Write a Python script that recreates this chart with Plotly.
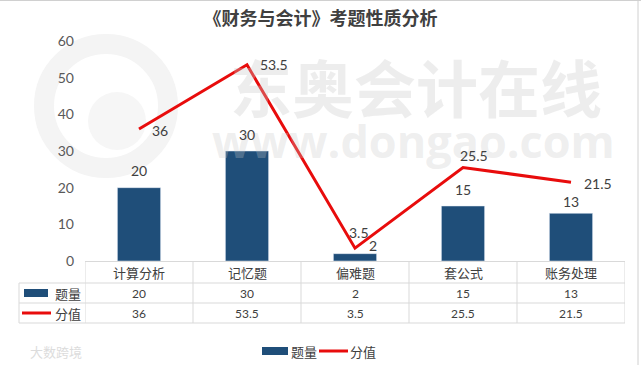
import plotly.graph_objects as go

categories = ["计算分析", "记忆题", "偏难题", "套公式", "账务处理"]
count_name = "题量"
score_name = "分值"
counts = [20, 30, 2, 15, 13]
scores = [36, 53.5, 3.5, 25.5, 21.5]
y_ticks = [0, 10, 20, 30, 40, 50, 60]
title_text = "《财务与会计》考题性质分析"

BAR = "#1f4e79"
RED = "#e80c0c"
TXT = "#404040"
GRID = "#d9d9d9"
NUM_FONT = "Lato, Noto Sans, Noto Sans CJK SC"
CJK_FONT = "Noto Sans CJK SC"

W, H = 641, 365
L, R, T, B = 85, 16, 41, 104
PW, PH = W - L - R, H - T - B


def px(x):
    return (x - L) / PW


def py(y):
    return (H - B - y) / PH


def ann(**kw):
    kw.setdefault("showarrow", False)
    kw.setdefault("xanchor", "center")
    kw.setdefault("yanchor", "middle")
    return kw


fig = go.Figure()
fig.add_trace(go.Bar(x=list(range(len(categories))), y=counts, name=count_name,
                     marker_color=BAR, width=0.4, hoverinfo="skip"))
fig.add_trace(go.Scatter(x=list(range(len(categories))), y=scores, name=score_name,
                         mode="lines", line=dict(color=RED, width=3), hoverinfo="skip"))

shapes = []
annotations = []

# watermark (faint)
shapes.append(dict(type="circle", xref="paper", yref="paper", layer="below",
                   x0=px(44), x1=px(168), y0=py(168), y1=py(44),
                   line=dict(color="#f4f4f4", width=20)))
shapes.append(dict(type="circle", xref="paper", yref="paper", layer="below",
                   x0=px(88), x1=px(146), y0=py(150), y1=py(92),
                   fillcolor="#f6f6f6", line=dict(width=0)))
annotations.append(ann(xref="paper", yref="paper", x=px(416), y=py(86), text="东奥会计在线",
                       font=dict(family=CJK_FONT, size=62, color="rgba(200,200,200,0.32)", weight="bold")))
annotations.append(ann(xref="paper", yref="paper", x=px(413), y=py(140), text="www.dongao.com",
                       font=dict(family="Open Sans", size=45, color="rgba(200,200,200,0.30)", weight="bold")))
annotations.append(ann(xref="paper", yref="paper", x=px(56), y=py(351), text="大数跨境",
                       font=dict(family=CJK_FONT, size=13, color="#dcdcdc")))

# data labels: bars
bar_shift = [(0, 17), (0, 17), (18, 8), (0, 17), (0, 12)]
for i, v in enumerate(counts):
    dx, dy = bar_shift[i]
    annotations.append(ann(x=i, y=v, xref="x", yref="y", text=str(v),
                           xshift=dx, yshift=dy, font=dict(family=NUM_FONT, size=14, color=TXT)))
# data labels: line
line_shift = [(21, -1), (27, 0), (4, 16), (11, 12), (27, -1)]
for i, v in enumerate(scores):
    dx, dy = line_shift[i]
    annotations.append(ann(x=i, y=v, xref="x", yref="y", text=f"{v:g}",
                           xshift=dx, yshift=dy, font=dict(family=NUM_FONT, size=14, color=TXT)))

# data table
row_lines = [py(283), py(303), py(323)]
for yy in row_lines:
    shapes.append(dict(type="line", xref="paper", yref="paper", x0=px(19), x1=1, y0=yy, y1=yy,
                       line=dict(color=GRID, width=1)))
for k in range(len(categories) + 1):
    shapes.append(dict(type="line", xref="x", yref="paper", x0=k - 0.5, x1=k - 0.5,
                       y0=py(323), y1=0, line=dict(color=GRID, width=1)))
shapes.append(dict(type="line", xref="paper", yref="paper", x0=px(19), x1=px(19),
                   y0=py(323), y1=py(283), line=dict(color=GRID, width=1)))

for i, c in enumerate(categories):
    annotations.append(ann(x=i, y=py(272.5), xref="x", yref="paper", text=c,
                           font=dict(family=CJK_FONT, size=13, color=TXT)))
    annotations.append(ann(x=i, y=py(293), xref="x", yref="paper", text=str(counts[i]),
                           font=dict(family=NUM_FONT, size=12, color=TXT)))
    annotations.append(ann(x=i, y=py(313), xref="x", yref="paper", text=f"{scores[i]:g}",
                           font=dict(family=NUM_FONT, size=12, color=TXT)))

# table legend keys
shapes.append(dict(type="rect", xref="paper", yref="paper", x0=px(24), x1=px(48),
                   y0=py(297), y1=py(289), fillcolor=BAR, line=dict(width=0)))
shapes.append(dict(type="line", xref="paper", yref="paper", x0=px(22), x1=px(51),
                   y0=py(313), y1=py(313), line=dict(color=RED, width=3)))
annotations.append(ann(xref="paper", yref="paper", x=px(68), y=py(293), text=count_name,
                       font=dict(family=CJK_FONT, size=13, color=TXT)))
annotations.append(ann(xref="paper", yref="paper", x=px(68), y=py(313), text=score_name,
                       font=dict(family=CJK_FONT, size=13, color=TXT)))

# bottom legend
shapes.append(dict(type="rect", xref="paper", yref="paper", x0=px(262), x1=px(288),
                   y0=py(355), y1=py(347), fillcolor=BAR, line=dict(width=0)))
annotations.append(ann(xref="paper", yref="paper", x=px(304), y=py(351), text=count_name,
                       font=dict(family=CJK_FONT, size=13, color=TXT)))
shapes.append(dict(type="line", xref="paper", yref="paper", x0=px(319), x1=px(348),
                   y0=py(351), y1=py(351), line=dict(color=RED, width=3)))
annotations.append(ann(xref="paper", yref="paper", x=px(363), y=py(351), text=score_name,
                       font=dict(family=CJK_FONT, size=13, color=TXT)))

# outer border (top and right)
shapes.append(dict(type="line", xref="paper", yref="paper", x0=px(0), x1=px(641),
                   y0=py(0.5), y1=py(0.5), line=dict(color="#d0d0d0", width=1)))
shapes.append(dict(type="line", xref="paper", yref="paper", x0=px(638), x1=px(638),
                   y0=py(365), y1=py(0), line=dict(color="#d0d0d0", width=1)))

fig.update_layout(
    width=W, height=H,
    margin=dict(l=L, r=R, t=T, b=B),
    paper_bgcolor="white", plot_bgcolor="rgba(0,0,0,0)",
    showlegend=False,
    title=dict(text=title_text, x=0.5, xanchor="center", y=1 - 19 / H, yanchor="middle",
               font=dict(family=CJK_FONT, size=18, color=TXT, weight="bold")),
    xaxis=dict(range=[-0.5, len(categories) - 0.5], showticklabels=False, showgrid=False,
               zeroline=False, showline=True, linecolor=GRID, linewidth=1, fixedrange=True),
    yaxis=dict(range=[0, 60], tickvals=y_ticks, showgrid=False, zeroline=False, showline=False,
               ticks="", ticklabelstandoff=10,
               tickfont=dict(family=NUM_FONT, size=14, color="#595959"), fixedrange=True),
    shapes=shapes,
    annotations=annotations,
)

fig.write_html("out.html", config={"displayModeBar": False},
               post_script="document.body.style.margin='0';document.body.style.overflow='hidden';")
